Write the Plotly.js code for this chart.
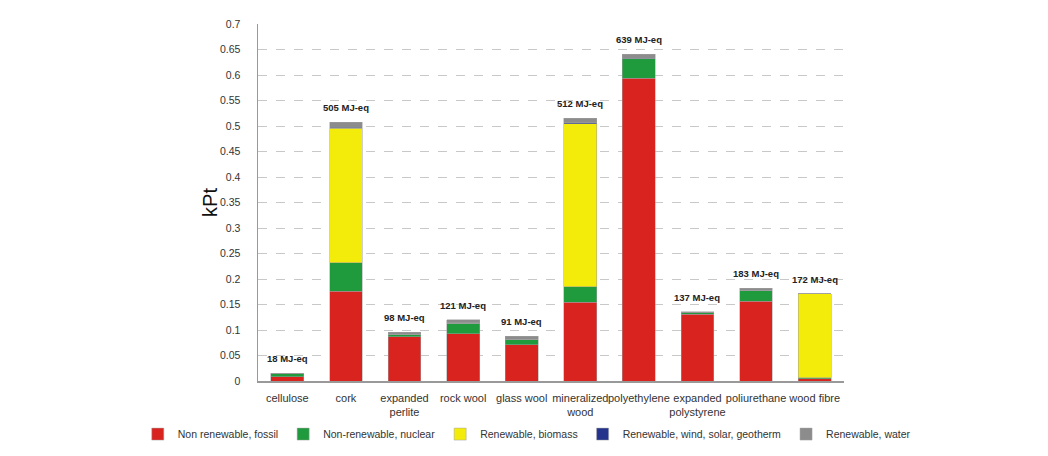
<!DOCTYPE html>
<html>
<head>
<meta charset="utf-8">
<script src="https://cdn.plot.ly/plotly-3.0.1.min.js"></script>
<style>
  html, body { margin: 0; padding: 0; background: #fff; }
  #chart { width: 1048px; height: 456px; }
</style>
</head>
<body>
<div id="chart"></div>
<script>
// materials on the x axis
var materials = ["cellulose", "cork", "expanded<br>perlite", "rock wool", "glass wool",
  "mineralized<br>wood", "polyethylene", "expanded<br>polystyrene", "poliurethane", "wood fibre"];

// kPt per energy source
var fossil  = [0.008, 0.176, 0.087, 0.093, 0.071, 0.154, 0.594, 0.131, 0.156, 0.004];
var nuclear = [0.006, 0.056, 0.005, 0.020, 0.011, 0.031, 0.038, 0.003, 0.022, 0.002];
var biomass = [0.000, 0.264, 0.000, 0.000, 0.000, 0.319, 0.000, 0.000, 0.000, 0.165];
var wind    = [0.000, 0.002, 0.000, 0.001, 0.000, 0.002, 0.001, 0.000, 0.000, 0.000];
var water   = [0.001, 0.009, 0.004, 0.006, 0.006, 0.009, 0.008, 0.002, 0.004, 0.000];

// primary energy labels over the bars
var energyLabels = ["18 MJ-eq", "505 MJ-eq", "98 MJ-eq", "121 MJ-eq", "91 MJ-eq",
  "512 MJ-eq", "639 MJ-eq", "137 MJ-eq", "183 MJ-eq", "172 MJ-eq"];

function doFirst() {
  var series = [
    { name: "Non renewable, fossil", y: fossil, color: "#d9231f" },
    { name: "Non-renewable, nuclear", y: nuclear, color: "#1f9a3c" },
    { name: "Renewable, biomass", y: biomass, color: "#f3ec0a" },
    { name: "Renewable, wind, solar, geotherm", y: wind, color: "#24348c" },
    { name: "Renewable, water", y: water, color: "#8c8c8c" }
  ];

  var data = series.map(function (s) {
    return {
      type: "bar",
      name: s.name,
      x: materials,
      y: s.y,
      width: 0.56,
      marker: { color: s.color, line: { color: "#a0a0a0", width: 0.5 } },
      hoverinfo: "name+y"
    };
  });

  // totals for placing the labels
  var totals = materials.map(function (m, i) {
    return fossil[i] + nuclear[i] + biomass[i] + wind[i] + water[i];
  });

  var annotations = materials.map(function (m, i) {
    return {
      x: m,
      y: totals[i],
      text: "<b>" + energyLabels[i] + "</b>",
      showarrow: false,
      yanchor: "bottom",
      yshift: 7,
      font: { family: "Liberation Sans, Arial, sans-serif", size: 9.5, color: "#222" }
    };
  });

  // kPt axis title, placed by hand next to the tick labels
  annotations.push({
    xref: "paper", yref: "paper",
    x: 0.161, y: 0.5,
    xanchor: "center", yanchor: "middle",
    text: "kPt",
    textangle: -90,
    showarrow: false,
    font: { family: "Liberation Sans, Arial, sans-serif", size: 20, color: "#111" }
  });

  var layout = {
    width: 1048,
    height: 456,
    margin: { l: 60, r: 60, t: 24, b: 75 },
    paper_bgcolor: "#fff",
    plot_bgcolor: "#fff",
    barmode: "stack",
    showlegend: true,
    font: { family: "Liberation Sans, Arial, sans-serif", size: 11, color: "#333" },
    xaxis: {
      type: "category",
      domain: [0.2134, 0.8448],
      showline: true,
      linecolor: "#999",
      linewidth: 1.5,
      ticks: "",
      tickangle: 0,
      ticklabelstandoff: 6,
      automargin: false,
      tickfont: { size: 11, color: "#333" },
      showgrid: false
    },
    yaxis: {
      range: [0, 0.7],
      dtick: 0.05,
      tickformat: "~g",
      showline: true,
      linecolor: "#999",
      linewidth: 1.5,
      showgrid: true,
      gridcolor: "#c8c8c8",
      griddash: "dash",
      gridwidth: 1,
      zeroline: false,
      ticks: "",
      ticklabelstandoff: 14,
      automargin: false,
      tickfont: { size: 10.5, color: "#333" }
    },
    legend: {
      orientation: "h",
      traceorder: "normal",
      xref: "paper",
      yref: "container",
      x: 0.503,
      xanchor: "center",
      y: 0.048,
      yanchor: "middle",
      font: { size: 10.5, color: "#333" },
      itemwidth: 30
    },
    annotations: annotations
  };

  Plotly.newPlot("chart", data, layout, { displayModeBar: false, staticPlot: true });
}

window.addEventListener("load", doFirst, false);
</script>
</body>
</html>
